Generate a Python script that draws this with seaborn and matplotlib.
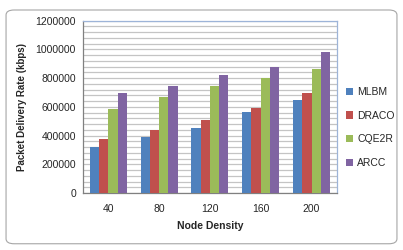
import numpy as np
import pandas as pd
import matplotlib
matplotlib.use('Agg')
import matplotlib.pyplot as plt
import seaborn as sns
from matplotlib.patches import FancyBboxPatch
from matplotlib.ticker import MultipleLocator

# 数据
node_density = ['40', '80', '120', '160', '200']
mlbm = [322000, 387000, 452000, 561000, 647000]
draco = [373000, 438000, 510000, 589000, 698000]
cqe2r = [582000, 668000, 744000, 798000, 860000]
arcc = [696000, 742000, 823000, 874000, 981000]
series_names = ['MLBM', 'DRACO', 'CQE2R', 'ARCC']
colors = ['#4F81BD', '#C0504D', '#9BBB59', '#8064A2']

df = pd.DataFrame({
    'Node Density': node_density * 4,
    'value': mlbm + draco + cqe2r + arcc,
    'series': sum([[s] * len(node_density) for s in series_names], []),
})

sns.set_style('white')
plt.rcParams['font.family'] = ['Liberation Sans', 'DejaVu Sans']

fig = plt.figure(figsize=(4.03, 2.5), dpi=100)
ax = fig.add_axes([0.206, 0.228, 0.63, 0.69])

# 外框（圆角）
frame = FancyBboxPatch((0.015, 0.025), 0.97, 0.935, boxstyle='round,pad=0,rounding_size=0.02',
                       transform=fig.transFigure, fc='white', ec='#a6a6a6', lw=0.8, zorder=-10)
fig.patches.append(frame)

sns.barplot(data=df, x='Node Density', y='value', hue='series', palette=colors,
            width=0.73, saturation=1, linewidth=0, ax=ax, zorder=3)

ax.set_ylim(0, 1200000)
ax.set_xlim(-0.5, 4.5)
ax.yaxis.set_major_locator(MultipleLocator(200000))
ax.yaxis.set_minor_locator(MultipleLocator(40000))
ax.grid(True, which='both', axis='y', color='#c4c4c4', lw=0.9, zorder=0)
ax.set_axisbelow(True)

ax.set_xticks(np.arange(-0.5, 5, 1), minor=True)
ax.tick_params(axis='x', which='major', length=0, labelsize=7.5, pad=8)
ax.tick_params(axis='x', which='minor', length=3, width=0.8, color='#808080', direction='out')
ax.tick_params(axis='y', which='major', length=3, width=0.8, color='#808080', direction='out', labelsize=7.5, pad=2)
ax.tick_params(axis='y', which='minor', length=0)
ax.yaxis.set_major_formatter(matplotlib.ticker.FuncFormatter(lambda v, p: f'{int(v)}'))

for side in ['left', 'bottom']:
    ax.spines[side].set_color('#808080')
    ax.spines[side].set_linewidth(0.9)
for side in ['top', 'right']:
    ax.spines[side].set_color('#9db4d8')
    ax.spines[side].set_linewidth(0.9)

ax.set_xlabel('Node Density', fontsize=7.5, fontweight='bold', labelpad=5)
ax.set_ylabel('Packet Delivery Rate (kbps)', fontsize=7, fontweight='bold', labelpad=6)

handles, labels = ax.get_legend_handles_labels()
ax.legend(handles, labels, loc='center left', bbox_to_anchor=(0.848, 0.49), bbox_transform=fig.transFigure,
          frameon=False, fontsize=7.5, handlelength=0.7, handleheight=0.7, handletextpad=0.4,
          labelspacing=1.3, borderaxespad=0)

fig.savefig('out.png', dpi=100)
